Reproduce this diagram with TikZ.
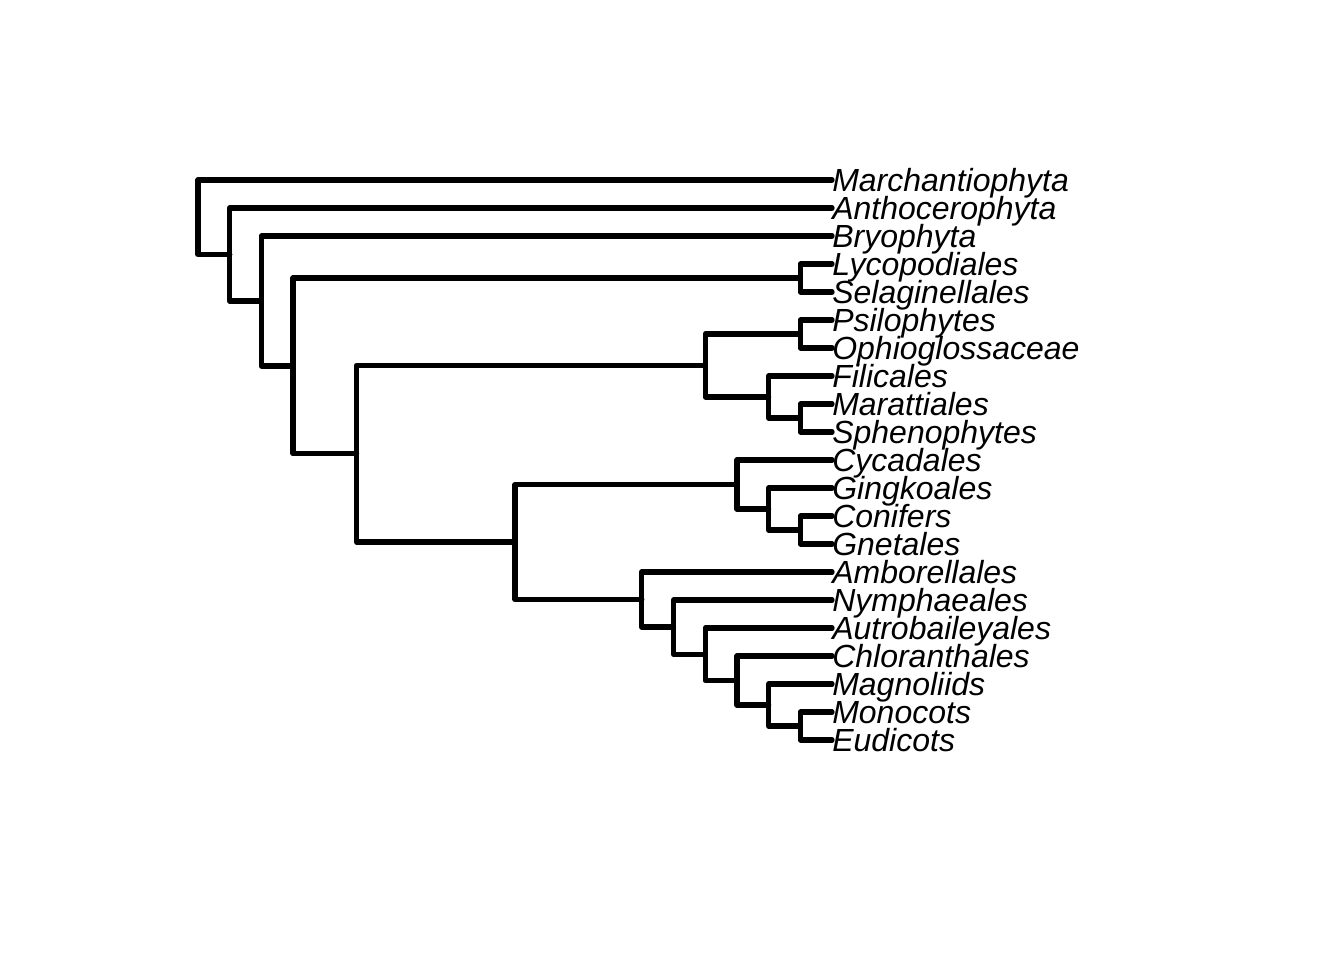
\documentclass[tikz,border=0pt]{standalone}
\usepackage{fontspec}
\setmainfont{Liberation Sans}
\usepackage{tikz}

\begin{document}
\begin{tikzpicture}[x=23.775pt, y=-21pt,
  ramo/.style={line width=4pt, line cap=round, line join=round},
  folha/.style={anchor=west, inner sep=0pt, text height=16.6pt, text depth=0pt,
    font=\fontsize{24}{28}\selectfont\itshape}]

\useasboundingbox (-6.246,-6.4286) rectangle (36.151,27.857);

% folhas
\node[folha] (marchantio) at (20,0) {Marchantiophyta};
\node[folha] (anthocero) at (20,1) {Anthocerophyta};
\node[folha] (bryo) at (20,2) {Bryophyta};
\node[folha] (lyco) at (20,3) {Lycopodiales};
\node[folha] (selag) at (20,4) {Selaginellales};
\node[folha] (psilo) at (20,5) {Psilophytes};
\node[folha] (ophio) at (20,6) {Ophioglossaceae};
\node[folha] (filic) at (20,7) {Filicales};
\node[folha] (maratt) at (20,8) {Marattiales};
\node[folha] (spheno) at (20,9) {Sphenophytes};
\node[folha] (cycad) at (20,10) {Cycadales};
\node[folha] (gingko) at (20,11) {Gingkoales};
\node[folha] (conif) at (20,12) {Conifers};
\node[folha] (gnet) at (20,13) {Gnetales};
\node[folha] (ambor) at (20,14) {Amborellales};
\node[folha] (nymph) at (20,15) {Nymphaeales};
\node[folha] (autro) at (20,16) {Autrobaileyales};
\node[folha] (chloran) at (20,17) {Chloranthales};
\node[folha] (magnol) at (20,18) {Magnoliids};
\node[folha] (monoc) at (20,19) {Monocots};
\node[folha] (eudic) at (20,20) {Eudicots};

% nos internos
\coordinate (raiz) at (0,1.3298);
\coordinate (n2) at (1,2.6597);
\coordinate (n3) at (2,4.3193);
\coordinate (traq) at (3,6.6387);
\coordinate (licof) at (19,3.5);
\coordinate (eufil) at (5,9.7773);
\coordinate (fetos) at (16,6.625);
\coordinate (psil) at (19,5.5);
\coordinate (filc) at (18,7.75);
\coordinate (mrt) at (19,8.5);
\coordinate (semen) at (10,12.9297);
\coordinate (gimno) at (17,10.875);
\coordinate (ging) at (18,11.75);
\coordinate (conf) at (19,12.5);
\coordinate (angio) at (14,14.9844);
\coordinate (ninf) at (15,15.9688);
\coordinate (autr) at (16,16.9375);
\coordinate (clor) at (17,17.875);
\coordinate (magn) at (18,18.75);
\coordinate (mono) at (19,19.5);

% ramos
\draw[ramo] (raiz) |- (marchantio.west);
\draw[ramo] (raiz) |- (n2);
\draw[ramo] (n2) |- (anthocero.west);
\draw[ramo] (n2) |- (n3);
\draw[ramo] (n3) |- (bryo.west);
\draw[ramo] (n3) |- (traq);
\draw[ramo] (traq) |- (licof);
\draw[ramo] (traq) |- (eufil);
\draw[ramo] (licof) |- (lyco.west);
\draw[ramo] (licof) |- (selag.west);
\draw[ramo] (eufil) |- (fetos);
\draw[ramo] (eufil) |- (semen);
\draw[ramo] (fetos) |- (psil);
\draw[ramo] (fetos) |- (filc);
\draw[ramo] (psil) |- (psilo.west);
\draw[ramo] (psil) |- (ophio.west);
\draw[ramo] (filc) |- (filic.west);
\draw[ramo] (filc) |- (mrt);
\draw[ramo] (mrt) |- (maratt.west);
\draw[ramo] (mrt) |- (spheno.west);
\draw[ramo] (semen) |- (gimno);
\draw[ramo] (semen) |- (angio);
\draw[ramo] (gimno) |- (cycad.west);
\draw[ramo] (gimno) |- (ging);
\draw[ramo] (ging) |- (gingko.west);
\draw[ramo] (ging) |- (conf);
\draw[ramo] (conf) |- (conif.west);
\draw[ramo] (conf) |- (gnet.west);
\draw[ramo] (angio) |- (ambor.west);
\draw[ramo] (angio) |- (ninf);
\draw[ramo] (ninf) |- (nymph.west);
\draw[ramo] (ninf) |- (autr);
\draw[ramo] (autr) |- (autro.west);
\draw[ramo] (autr) |- (clor);
\draw[ramo] (clor) |- (chloran.west);
\draw[ramo] (clor) |- (magn);
\draw[ramo] (magn) |- (magnol.west);
\draw[ramo] (magn) |- (mono);
\draw[ramo] (mono) |- (monoc.west);
\draw[ramo] (mono) |- (eudic.west);

\end{tikzpicture}
\end{document}
